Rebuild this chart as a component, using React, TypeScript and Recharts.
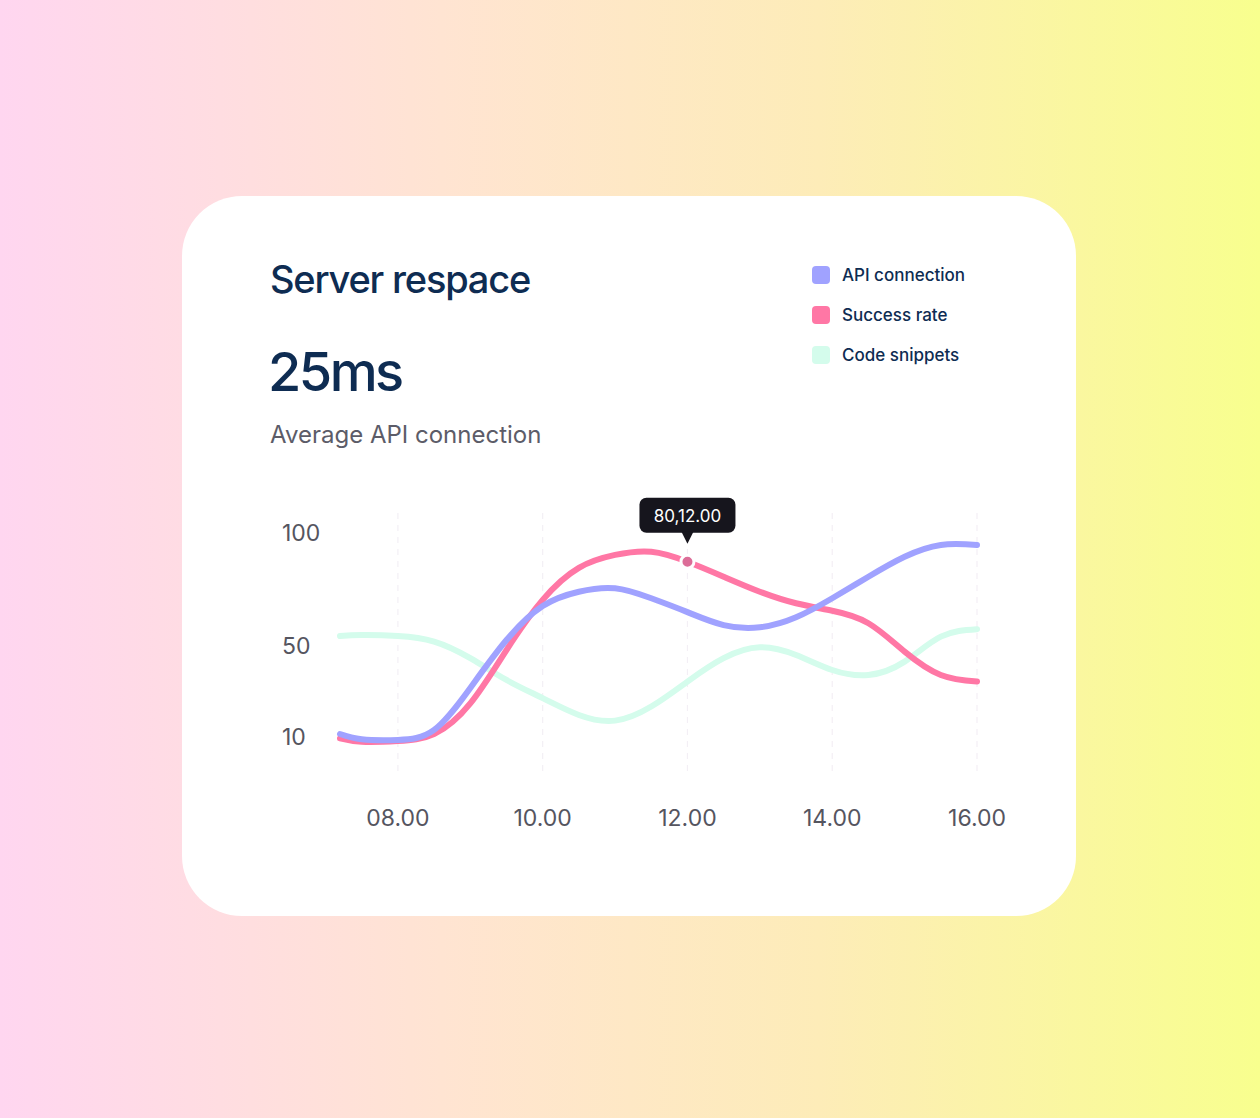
import { LineChart, Line, XAxis, YAxis, ReferenceLine, ReferenceDot } from "recharts";

// half-hour grid (decimal hours), chart starts a little before 08.00
const hours = [7.2, 7.5, 8, 8.5, 9, 9.5, 10, 10.5, 11, 11.5, 12, 12.5, 13, 13.5, 14, 14.5, 15, 15.5, 16];

// values
const apiConnection = [11.3, 9, 8.7, 13.1, 31.6, 52.7, 67.7, 74, 75.5, 71.1, 65, 59.3, 58.3, 62.7, 71.1, 80.6, 89.4, 94.6, 94.6];
const successRate = [9.4, 7.9, 8.2, 11.3, 24.8, 48.3, 70.4, 84.5, 90.2, 91.6, 87.2, 80.6, 74, 68.9, 65.6, 60.1, 47.6, 37.3, 34.4];
const codeSnippets = [54.5, 54.9, 54.5, 52, 44.7, 35.1, 27.1, 19.7, 17.2, 23.4, 34.4, 44.7, 49.5, 46.1, 39.5, 37.3, 43.2, 54.2, 57.5];

const xTicks = [8, 10, 12, 14, 16];
const yTicks = [10, 50, 100];

const tooltipHour = 12;
const tooltipLabel = "80,12.00";

const legendItems = [
  { key: "api", name: "API connection", color: "#a0a2ff" },
  { key: "success", name: "Success rate", color: "#ff77a5" },
  { key: "snippets", name: "Code snippets", color: "#d4fcec" },
];

const data = hours.map((hour, i) => ({
  hour,
  api: apiConnection[i],
  success: successRate[i],
  snippets: codeSnippets[i],
}));

const tooltipValue = successRate[hours.indexOf(tooltipHour)];

const fmtHour = (h: number) => `${String(h).padStart(2, "0")}.00`;

const font = "Inter, 'Noto Sans', sans-serif";

const YTick = ({ y, payload }: any) => (
  <text x={22} y={y} dy="0.35em" textAnchor="start" fill="#55555f" fontSize={23} fontFamily={font}>
    {payload.value}
  </text>
);

const TooltipMarker = ({ cx, cy }: any) => (
  <g>
    <rect x={cx - 48} y={cy - 64} width={96} height={35} rx={7} fill="#16151d" />
    <path d={`M${cx - 6},${cy - 30} L${cx + 6},${cy - 30} L${cx},${cy - 18} Z`} fill="#16151d" />
    <text x={cx} y={cy - 46} dy="0.35em" textAnchor="middle" fill="#ffffff" fontSize={17} fontFamily={font}>
      {tooltipLabel}
    </text>
    <circle cx={cx} cy={cy} r={6.5} fill="#dc6d98" stroke="#ffffff" strokeWidth={3} />
  </g>
);

export default function App() {
  return (
    <div
      style={{
        position: "fixed",
        left: 0,
        top: 0,
        width: 1260,
        height: 1118,
        background: "linear-gradient(90deg, #ffd6f0 0%, #ffe4d2 35%, #fdecb8 65%, #f8ff8e 100%)",
        fontFamily: font,
        overflow: "hidden",
      }}
    >
      <div
        style={{
          position: "absolute",
          left: 182,
          top: 196,
          width: 894,
          height: 720,
          borderRadius: 60,
          background: "#ffffff",
        }}
      />
      <div style={{ position: "absolute", left: 270, top: 256, fontSize: 38, fontWeight: 500, color: "#0e2c52", letterSpacing: -1.2 }}>
        Server respace
      </div>
      <div style={{ position: "absolute", left: 268, top: 339, fontSize: 54, fontWeight: 500, color: "#0e2c52", letterSpacing: -2.5 }}>
        25ms
      </div>
      <div style={{ position: "absolute", left: 270, top: 420, fontSize: 24, color: "#5c5c68" }}>
        Average API connection
      </div>

      <div style={{ position: "absolute", left: 812, top: 265 }}>
        {legendItems.map((item) => (
          <div key={item.key} style={{ display: "flex", alignItems: "center", height: 20, marginBottom: 20 }}>
            <div style={{ width: 18, height: 18, borderRadius: 4, background: item.color, marginRight: 12 }} />
            <span style={{ fontSize: 17, fontWeight: 500, color: "#0e2c52" }}>{item.name}</span>
          </div>
        ))}
      </div>

      <div style={{ position: "absolute", left: 260, top: 490 }}>
        <LineChart width={780} height={360} data={data} margin={{ top: 20, right: 63, bottom: 0, left: 0 }}>
          <XAxis
            dataKey="hour"
            type="number"
            domain={[7.2, 16]}
            ticks={xTicks}
            tickFormatter={fmtHour}
            axisLine={false}
            tickLine={false}
            tickSize={0}
            tickMargin={39}
            height={79}
            tick={{ fill: "#55555f", fontSize: 23, fontFamily: font }}
          />
          <YAxis
            type="number"
            domain={[-5, 110]}
            ticks={yTicks}
            axisLine={false}
            tickLine={false}
            width={80}
            tick={<YTick />}
          />
          {xTicks.map((h) => (
            <ReferenceLine key={h} x={h} stroke="#f3eff5" strokeWidth={1.2} strokeDasharray="6 6" />
          ))}
          <Line dataKey="snippets" type="natural" stroke="#d4fcec" strokeWidth={6} strokeLinecap="round" dot={false} activeDot={false} isAnimationActive={false} />
          <Line dataKey="success" type="natural" stroke="#ff77a5" strokeWidth={6} strokeLinecap="round" dot={false} activeDot={false} isAnimationActive={false} />
          <Line dataKey="api" type="natural" stroke="#a0a2ff" strokeWidth={6} strokeLinecap="round" dot={false} activeDot={false} isAnimationActive={false} />
          <ReferenceDot x={tooltipHour} y={tooltipValue} shape={<TooltipMarker />} />
        </LineChart>
      </div>
    </div>
  );
}
